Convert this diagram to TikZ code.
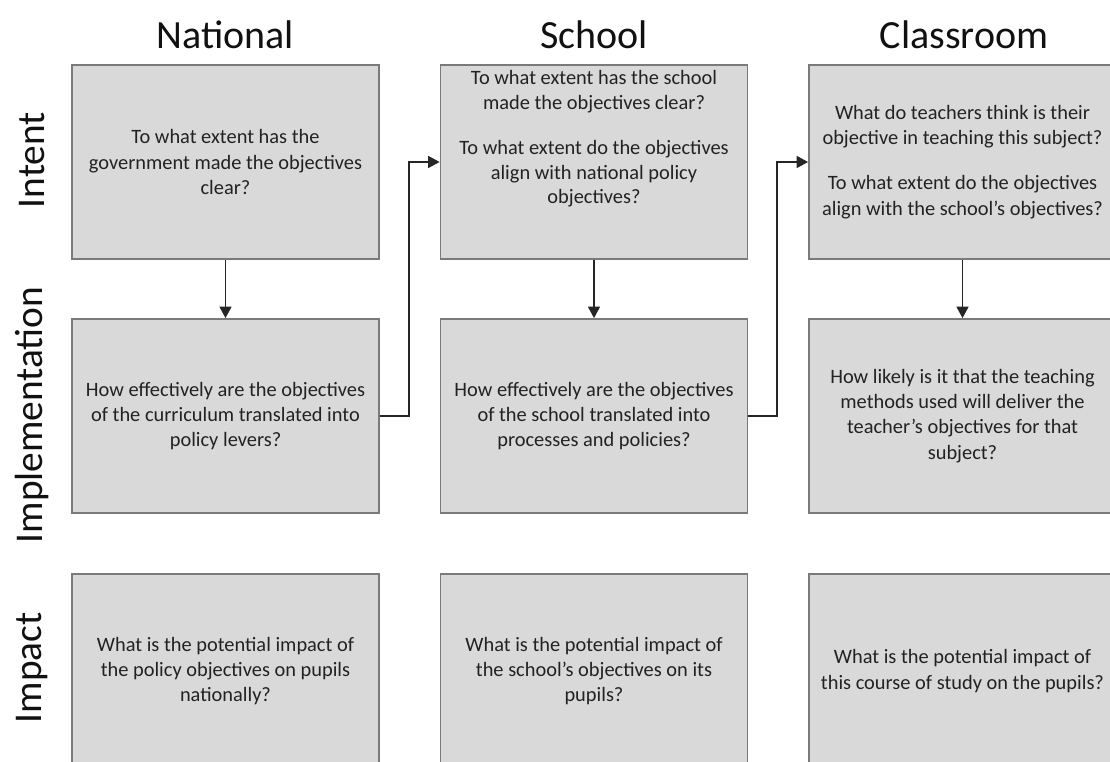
\documentclass[tikz,border=0pt]{standalone}
\usepackage{fontspec}
\setmainfont{Carlito}
\usetikzlibrary{arrows.meta}
\definecolor{boxfill}{HTML}{D9D9D9}
\definecolor{boxline}{HTML}{7A7A7A}
\definecolor{txtcol}{HTML}{222222}
\definecolor{headcol}{HTML}{111111}
\begin{document}
\begin{tikzpicture}[x=0.75pt,y=-0.75pt,
  box/.style={draw=boxline, fill=boxfill, line width=1.4pt, minimum width=230.25pt,
    minimum height=145.5pt, inner sep=0pt, align=center,
    font=\fontsize{15.3}{19}\selectfont, text=txtcol},
  boxtext/.style={inner sep=0pt, align=center, font=\fontsize{15.3}{18.6}\selectfont, text=txtcol},
  head/.style={font=\fontsize{30}{36}\selectfont, text=headcol, inner sep=0pt},
  rowlab/.style={font=\fontsize{29.5}{36}\selectfont, text=headcol, inner sep=0pt, rotate=90},
  conn/.style={draw=black!85, line width=0.8pt, -{Triangle[length=8.5pt,width=9pt]}}]
\useasboundingbox (0,0) rectangle (1110,762);
\clip (0,0) rectangle (1110,762);
% headers
\node[head] (hN) at (225.5,35) {National};
\node[head] (hS) at (594,35) {School};
\node[head] (hC) at (964,35) {Classroom};
% row labels
\node[rowlab] (lI) at (32,160) {Intent};
\node[rowlab] (lM) at (32,415) {Implementation};
\node[rowlab] (lP) at (32,668) {Impact};
% row 1
\node[box] (b11) at (225.5,162) {To what extent has the\\government made the objectives\\clear?};
\node[box] (b12) at (594,162) {};
\node[boxtext] (t12) at (594,139) {To what extent has the school\\made the objectives clear?\\[15pt]To what extent do the objectives\\align with national policy\\objectives?};
\node[box] (b13) at (962.5,162) {What do teachers think is their\\objective in teaching this subject?\\[15pt]To what extent do the objectives\\align with the school’s objectives?};
% row 2
\node[box] (b21) at (225.5,416) {How effectively are the objectives\\of the curriculum translated into\\policy levers?};
\node[box] (b22) at (594,416) {How effectively are the objectives\\of the school translated into\\processes and policies?};
\node[box] (b23) at (962.5,416) {How likely is it that the teaching\\methods used will deliver the\\teacher’s objectives for that\\subject?};
% row 3
\node[box] (b31) at (225.5,671) {What is the potential impact of\\the policy objectives on pupils\\nationally?};
\node[box] (b32) at (594,671) {What is the potential impact of\\the school’s objectives on its\\pupils?};
\node[box] (b33) at (962.5,671) {What is the potential impact of\\this course of study on the pupils?};
% connectors
\draw[conn] (b11) -- (b21);
\draw[conn] (b12) -- (b22);
\draw[conn] (b13) -- (b23);
\coordinate (m1) at (409,416);
\coordinate (m2) at (777,416);
\draw[conn] (b21.east) -- (m1) |- (b12.west);
\draw[conn] (b22.east) -- (m2) |- (b13.west);
\end{tikzpicture}
\end{document}
